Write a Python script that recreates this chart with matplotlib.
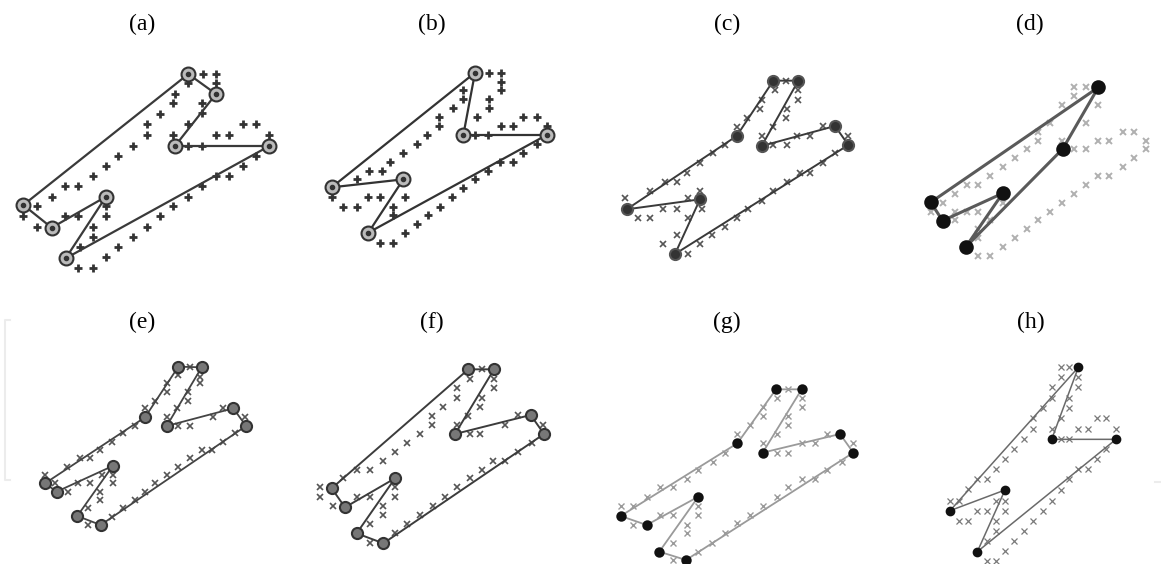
import numpy as np
import matplotlib
matplotlib.use('Agg')
import matplotlib.pyplot as plt

plt.rcParams['font.family'] = ['Liberation Serif', 'DejaVu Serif']

# panel labels and their label positions (pixels)
labels = ['(a)', '(b)', '(c)', '(d)', '(e)', '(f)', '(g)', '(h)']
label_x = [142, 432, 727, 1030, 142, 432, 727, 1031]
label_y = [24, 24, 24, 24, 322, 322, 322, 322]

# each panel: tour vertices (in visiting order) and city points, read from the
# zoomed reference as (zoom x, zoom y); converted with the crop offset below
offsets = [(0, 50), (290, 50), (580, 50), (870, 50),
           (0, 330), (290, 330), (580, 330), (870, 330)]

tour_a = [(565, 72), (648, 132), (525, 288), (808, 288), (197, 625), (318, 440),
          (155, 533), (70, 465)]
pts_a = [(608, 72), (648, 72), (565, 100), (648, 100), (525, 132), (605, 160), (520, 160),
         (605, 190), (480, 192), (565, 222), (440, 222), (730, 222), (768, 222), (440, 255),
         (520, 255), (648, 255), (688, 255), (808, 255), (565, 288), (605, 288), (400, 288),
         (355, 318), (768, 318), (318, 348), (730, 348), (278, 378), (688, 378), (648, 378),
         (195, 408), (235, 408), (605, 408), (155, 440), (565, 440), (110, 468), (318, 468),
         (520, 468), (70, 498), (195, 498), (235, 498), (318, 498), (480, 498), (110, 530),
         (280, 530), (440, 530), (280, 560), (400, 560), (240, 592), (355, 592), (318, 622),
         (235, 655), (280, 655)]

tour_b = [(555, 68), (520, 255), (770, 255), (235, 548), (340, 388), (125, 412)]
pts_b = [(598, 68), (632, 68), (632, 95), (632, 120), (520, 120), (520, 148), (598, 148),
         (598, 175), (488, 175), (448, 200), (448, 228), (560, 200), (700, 200), (740, 200),
         (632, 228), (668, 228), (410, 255), (555, 255), (595, 255), (770, 228), (380, 282),
         (340, 308), (740, 282), (300, 335), (700, 308), (668, 335), (630, 335), (238, 362),
         (275, 362), (595, 362), (200, 388), (555, 388), (125, 440), (235, 440), (270, 440),
         (345, 440), (520, 415), (160, 470), (200, 470), (310, 470), (485, 440), (450, 470),
         (310, 495), (415, 495), (380, 522), (345, 548), (270, 578), (308, 578)]

tour_c = [(580, 92), (655, 92), (545, 288), (765, 228), (805, 285), (285, 612),
          (360, 448), (140, 478), (470, 258)]
pts_c = [(618, 92), (585, 120), (655, 120), (545, 150), (655, 150), (620, 178), (540, 178),
         (618, 205), (500, 205), (470, 230), (580, 230), (545, 258), (650, 258), (690, 258),
         (730, 228), (805, 258), (580, 285), (620, 285), (435, 285), (400, 310), (765, 310),
         (360, 338), (730, 338), (320, 368), (690, 368), (660, 368), (255, 395), (290, 395),
         (620, 395), (210, 422), (580, 422), (135, 445), (325, 445), (360, 422), (545, 452),
         (250, 478), (290, 478), (365, 478), (505, 478), (175, 505), (210, 505), (325, 505),
         (470, 505), (435, 530), (290, 555), (395, 555), (250, 582), (360, 582), (325, 612)]

tour_d = [(685, 112), (578, 297), (288, 590), (398, 430), (218, 512), (182, 457)]
pts_d = [(612, 112), (648, 112), (612, 138), (685, 165), (575, 165), (648, 218), (540, 218),
         (505, 245), (505, 272), (575, 272), (685, 272), (718, 272), (758, 245), (792, 245),
         (828, 272), (828, 298), (612, 298), (648, 298), (470, 298), (435, 325), (792, 325),
         (398, 352), (758, 352), (360, 378), (685, 378), (718, 378), (290, 405), (325, 405),
         (648, 405), (255, 432), (612, 432), (218, 458), (398, 458), (575, 458), (182, 485),
         (255, 485), (290, 485), (325, 485), (540, 485), (255, 510), (360, 510), (505, 510),
         (325, 538), (470, 538), (325, 565), (435, 565), (398, 590), (325, 618), (360, 618)]

tour_e = [(535, 110), (605, 112), (500, 288), (700, 235), (738, 288), (302, 585),
          (232, 558), (338, 408), (170, 485), (135, 460), (435, 262)]
pts_e = [(570, 110), (535, 135), (600, 140), (500, 160), (600, 160), (565, 185), (500, 185),
         (565, 212), (465, 212), (530, 235), (435, 235), (500, 262), (640, 262), (670, 235),
         (735, 262), (535, 288), (570, 288), (405, 288), (370, 310), (705, 310), (335, 335),
         (670, 335), (300, 360), (635, 360), (605, 360), (240, 385), (270, 385), (570, 385),
         (200, 410), (535, 410), (135, 435), (305, 435), (338, 435), (500, 435), (165, 460),
         (235, 460), (270, 460), (338, 460), (465, 460), (205, 485), (300, 485), (435, 485),
         (300, 510), (405, 510), (265, 535), (370, 535), (265, 585), (335, 560)]

tour_f = [(535, 118), (612, 118), (495, 312), (722, 255), (762, 312), (280, 640),
          (200, 610), (315, 445), (165, 532), (125, 475)]
pts_f = [(575, 118), (540, 148), (612, 148), (500, 175), (612, 175), (575, 205), (500, 205),
         (570, 230), (460, 230), (535, 258), (425, 258), (425, 285), (500, 285), (645, 285),
         (685, 255), (760, 285), (540, 312), (570, 312), (390, 312), (350, 338), (725, 338),
         (315, 365), (685, 365), (280, 392), (645, 392), (610, 392), (240, 420), (200, 420),
         (575, 420), (160, 445), (540, 445), (90, 472), (315, 472), (500, 472), (90, 500),
         (200, 500), (240, 500), (315, 500), (465, 500), (130, 528), (280, 528), (430, 528),
         (280, 555), (390, 555), (240, 582), (350, 582), (240, 638), (315, 610)]

tour_g = [(588, 178), (665, 178), (548, 368), (780, 312), (820, 368), (318, 690),
          (238, 665), (355, 500), (200, 585), (122, 558), (472, 340)]
pts_g = [(625, 178), (590, 205), (665, 205), (550, 232), (665, 232), (625, 258), (548, 258),
         (625, 285), (510, 285), (472, 312), (590, 312), (548, 340), (665, 340), (705, 340),
         (742, 312), (820, 340), (590, 368), (625, 368), (435, 368), (400, 395), (785, 395),
         (355, 420), (742, 420), (320, 448), (705, 448), (665, 448), (240, 472), (280, 472),
         (625, 472), (200, 500), (590, 500), (122, 528), (160, 528), (355, 528), (548, 528),
         (240, 555), (280, 555), (355, 555), (510, 555), (160, 585), (320, 585), (472, 580),
         (320, 610), (435, 610), (280, 640), (395, 640), (280, 690), (355, 665)]

tour_h = [(625, 112), (545, 328), (738, 328), (322, 665), (405, 480), (240, 542)]
pts_h = [(572, 112), (598, 112), (572, 142), (625, 142), (545, 172), (625, 172), (545, 205),
         (598, 205), (518, 235), (598, 235), (490, 265), (572, 265), (680, 265), (708, 265),
         (490, 298), (545, 298), (625, 298), (655, 298), (738, 298), (572, 328), (598, 328),
         (462, 328), (432, 358), (708, 358), (405, 388), (680, 388), (378, 418), (625, 418),
         (655, 418), (322, 448), (350, 448), (598, 448), (295, 478), (572, 480), (240, 512),
         (268, 512), (378, 512), (405, 512), (545, 512), (322, 542), (350, 542), (405, 542),
         (518, 542), (268, 572), (295, 572), (378, 572), (490, 572), (378, 602), (462, 602),
         (350, 632), (432, 632), (405, 662), (350, 692), (378, 692)]

tours = [tour_a, tour_b, tour_c, tour_d, tour_e, tour_f, tour_g, tour_h]
points = [pts_a, pts_b, pts_c, pts_d, pts_e, pts_f, pts_g, pts_h]

# drawing styles per panel
line_c = ['#3a3a3a', '#333333', '#3a3a3a', '#5a5a5a', '#444444', '#3c3c3c', '#9a9a9a', '#6a6a6a']
line_w = [1.6, 1.6, 1.4, 2.2, 1.3, 1.4, 1.3, 1.1]
pt_mk = ['+', '+', 'x', 'x', 'x', 'x', 'x', 'x']
pt_c = ['#333333', '#333333', '#555555', '#b0b0b0', '#555555', '#555555', '#9a9a9a', '#7a7a7a']
pt_s = [6, 6, 5, 4, 5, 5, 4, 5]
pt_w = [2.0, 2.0, 1.2, 1.4, 1.2, 1.2, 1.0, 0.9]
v_face = ['#bbbbbb', '#bbbbbb', '#333333', '#111111', '#777777', '#777777', '#111111', '#111111']
v_edge = ['#333333', '#333333', '#555555', '#111111', '#333333', '#333333', '#111111', '#111111']
v_size = [10, 10, 8, 9, 8, 8, 6, 5.5]

fig = plt.figure(figsize=(11.61, 5.64), dpi=100)
ax = fig.add_axes([0, 0, 1, 1])
ax.set_xlim(0, 1161)
ax.set_ylim(564, 0)
ax.axis('off')

for i in range(8):
    ox, oy = offsets[i]
    t = np.array(tours[i], dtype=float) / 3.0 + [ox, oy]
    p = np.array(points[i], dtype=float) / 3.0 + [ox, oy]
    closed = np.vstack([t, t[:1]])
    ax.plot(p[:, 0], p[:, 1], linestyle='none', marker=pt_mk[i], ms=pt_s[i],
            mew=pt_w[i], color=pt_c[i], zorder=2)
    ax.plot(closed[:, 0], closed[:, 1], color=line_c[i], lw=line_w[i], zorder=3)
    ax.plot(t[:, 0], t[:, 1], linestyle='none', marker='o', ms=v_size[i],
            mfc=v_face[i], mec=v_edge[i], mew=1.5, zorder=4)
    if i < 2:
        # small dot in the middle of the open circles
        ax.plot(t[:, 0], t[:, 1], linestyle='none', marker='o', ms=3,
                color='#333333', zorder=5)
    ax.text(label_x[i], label_y[i], labels[i], ha='center', va='center', fontsize=17)

# faint scan edges left and right of the lower row
ax.plot([10, 5, 5, 10], [320, 320, 480, 480], color='#ececec', lw=1.5, zorder=1)
ax.plot([1155, 1161], [482, 482], color='#ececec', lw=1.5, zorder=1)

plt.savefig('out.png', dpi=100)
